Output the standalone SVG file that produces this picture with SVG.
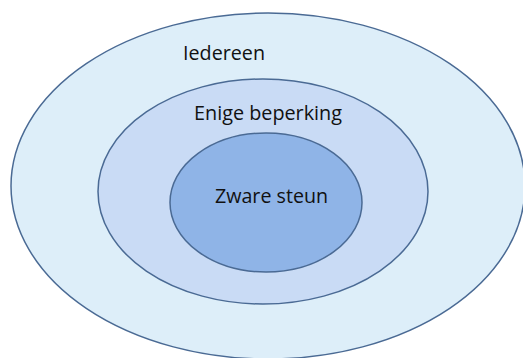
<svg xmlns="http://www.w3.org/2000/svg" width="523" height="358" viewBox="0 0 523 358">
<style>
.e{stroke:#4a6a94;stroke-width:1.5}
.t{font-family:"Open Sans","Liberation Sans",sans-serif;font-size:20px;fill:#111}
</style>
<rect width="523" height="358" fill="#ffffff"/>
<g id="iedereen">
<ellipse class="e" cx="268" cy="186" rx="257" ry="173" fill="#ddeef9"/>
<text class="t" x="183" y="60" textLength="82" lengthAdjust="spacingAndGlyphs">Iedereen</text>
</g>
<g id="enige-beperking">
<ellipse class="e" cx="263" cy="191.5" rx="165" ry="112.5" fill="#c9dbf5"/>
<text class="t" x="194" y="120" textLength="148" lengthAdjust="spacingAndGlyphs">Enige beperking</text>
</g>
<g id="zware-steun">
<ellipse class="e" cx="266" cy="202.5" rx="96" ry="69.5" fill="#8fb4e7"/>
<text class="t" x="215" y="203" textLength="113" lengthAdjust="spacingAndGlyphs">Zware steun</text>
</g>
<g id="connectors"/>
</svg>
